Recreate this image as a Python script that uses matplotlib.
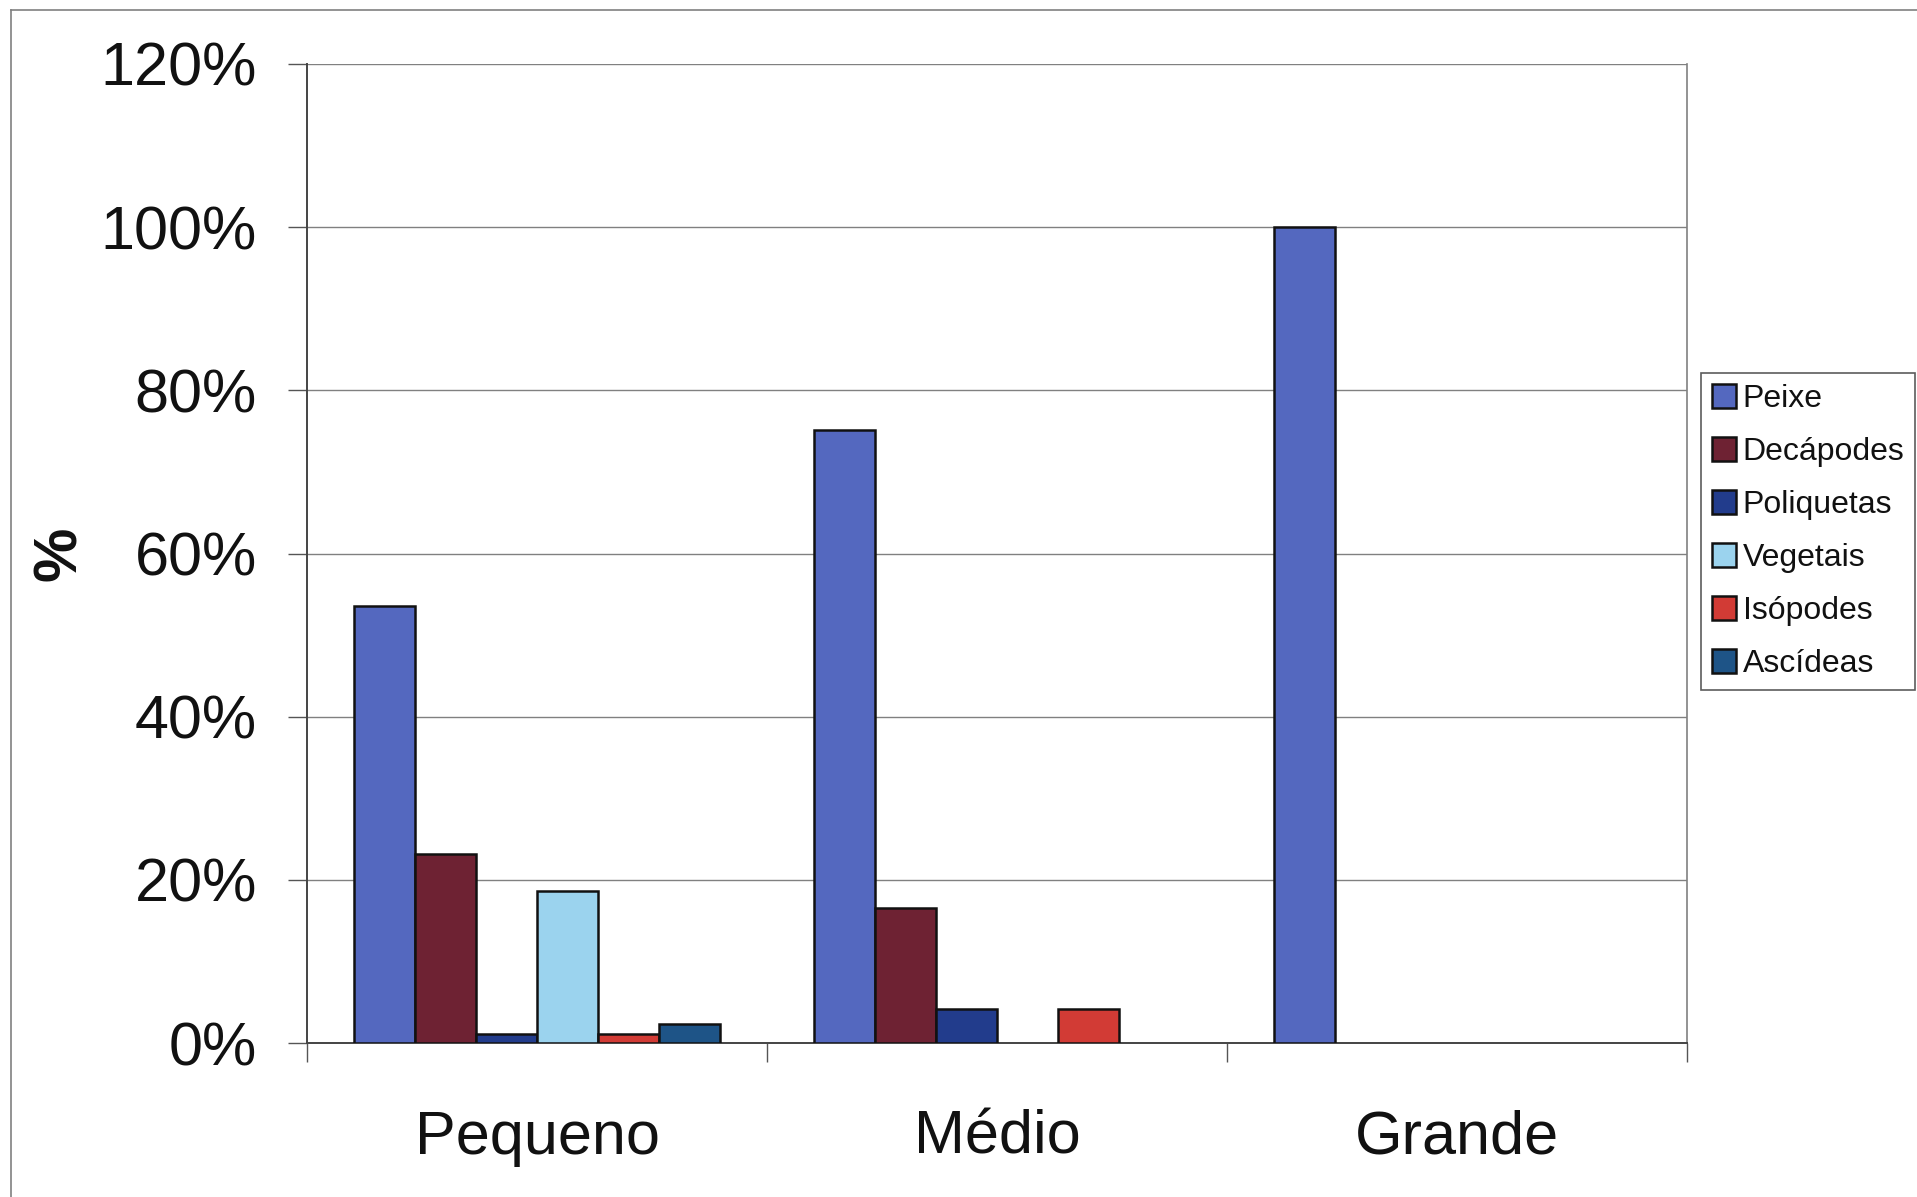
import matplotlib
matplotlib.use("Agg")
import matplotlib.pyplot as plt
from matplotlib.lines import Line2D
import numpy as np

categories = ["Pequeno", "Médio", "Grande"]
series_names = ["Peixe", "Decápodes", "Poliquetas", "Vegetais", "Isópodes", "Ascídeas"]
peixe = [53.6, 75.1, 100.0]
decapodes = [23.2, 16.6, 0.0]
poliquetas = [1.1, 4.2, 0.0]
vegetais = [18.6, 0.0, 0.0]
isopodes = [1.1, 4.2, 0.0]
ascideas = [2.3, 0.0, 0.0]
yticks = [0, 20, 40, 60, 80, 100, 120]
ytick_labels = ["0%", "20%", "40%", "60%", "80%", "100%", "120%"]

series_values = [peixe, decapodes, poliquetas, vegetais, isopodes, ascideas]
colors = ["#5468BF", "#6E2233", "#223C8C", "#9BD3EE", "#D23B35", "#1E5487"]

plt.rcParams['font.family'] = ['Liberation Sans', 'DejaVu Sans']

W, H = 1917, 1197
fig = plt.figure(figsize=(W / 100, H / 100), dpi=100)
fig.patch.set_facecolor("white")

ax_l, ax_r, ax_t, ax_b = 307, 1687, 64, 1043
ax = fig.add_axes([ax_l / W, (H - ax_b) / H, (ax_r - ax_l) / W, (ax_b - ax_t) / H])

x = np.arange(len(categories))
w = 61 / 460
n = len(series_names)
for j, (name, vals, c) in enumerate(zip(series_names, series_values, colors)):
    lws = [1.8 if v > 0 else 0 for v in vals]
    ax.bar(x + (j - (n - 1) / 2) * w, vals, width=w, color=c, edgecolor="#111111",
           linewidth=lws, label=name, zorder=3)

ax.set_xlim(-0.5, 2.5)
ax.set_ylim(0, 120)
ax.set_yticks(yticks)
ax.set_yticklabels(ytick_labels)
ax.yaxis.grid(True, color="#808080", linewidth=1.0, zorder=0)
ax.set_axisbelow(True)

ax.set_xticks([-0.5, 0.5, 1.5, 2.5])
ax.set_xticklabels([])
ax.set_xticks(x, minor=True)
ax.set_xticklabels(categories, minor=True)
ax.tick_params(axis="x", which="major", length=14, width=1.0, color="#555555", direction="out")
ax.tick_params(axis="x", which="minor", length=0, pad=48, labelsize=44, labelcolor="#111111")
ax.tick_params(axis="y", length=14, width=1.0, color="#555555", direction="out", pad=22,
               labelsize=44, labelcolor="#111111")

for s in ["left", "bottom"]:
    ax.spines[s].set_color("#444444")
    ax.spines[s].set_linewidth(1.4)
ax.spines["right"].set_color("#808080")
ax.spines["right"].set_linewidth(1.2)
ax.spines["top"].set_visible(False)

fig.text(61 / W, (H - 553.5) / H, "%", rotation=90, ha="center", va="center",
         fontsize=44, fontweight="bold", color="#111111")

leg = fig.legend(loc="upper left", bbox_to_anchor=(1701 / W, 1 - 373 / H), borderaxespad=0,
                 fontsize=23, frameon=True, fancybox=False, edgecolor="#333333",
                 handlelength=0.75, handleheight=0.75, handletextpad=0.2,
                 labelspacing=0.72, borderpad=0.35)
leg.get_frame().set_linewidth(1.2)
for t in leg.get_texts():
    t.set_color("#111111")

# outer chart-area border
fig.add_artist(Line2D([11 / W, 11 / W], [0, 1 - 10 / H], transform=fig.transFigure,
                      color="#808080", linewidth=1.2))
fig.add_artist(Line2D([11 / W, 1], [1 - 10 / H, 1 - 10 / H], transform=fig.transFigure,
                      color="#808080", linewidth=1.2))

fig.savefig("out.png", dpi=100, facecolor="white")
